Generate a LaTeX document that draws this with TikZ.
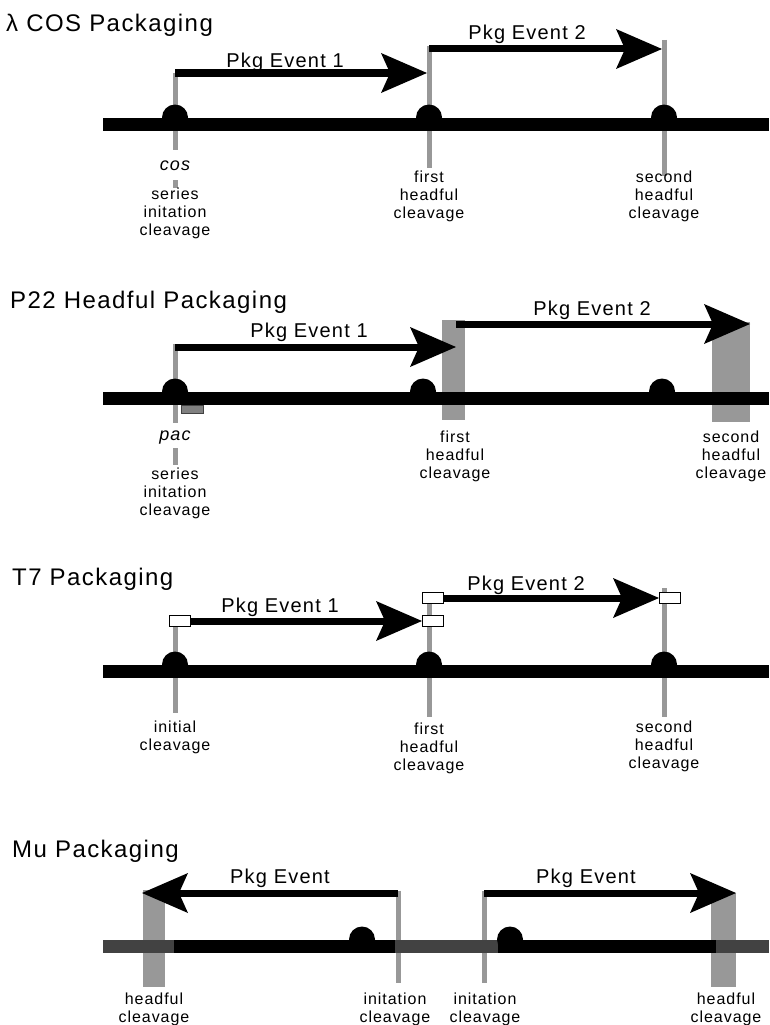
\documentclass[tikz,border=0pt]{standalone}
\usepackage{fontspec}
\setmainfont[LetterSpace=6]{Liberation Sans}
\usetikzlibrary{arrows.meta, positioning}
\definecolor{tickgray}{RGB}{152,152,152}
\definecolor{segdark}{RGB}{66,66,66}
\tikzset{
	x=1pt, y=-1pt, % one unit is one pixel of the original figure, y runs down
	spine/.style={line width=13pt}, % the thick DNA line
	tick/.style={draw=tickgray, line width=5pt}, % thin grey cleavage marks
	hbar/.style={fill=tickgray}, % wide grey headful cut zones
	event/.style={line width=7pt, -{Stealth[length=46pt, width=40pt, inset=9pt, line width=0pt]}},
	title/.style={font=\fontsize{24}{28}\selectfont, anchor=base west, inner sep=0pt},
	evlabel/.style={font=\fontsize{20}{24}\selectfont, anchor=base, inner sep=0pt},
	site/.style={font=\fontsize{16}{18}\selectfont, align=center, anchor=north, inner sep=0pt, execute at begin node=\strut},
	seq/.style={font=\fontsize{18}{20}\selectfont\itshape, anchor=base, inner sep=0pt},
	flag/.style={draw, line width=1.2pt, fill=white, minimum width=21pt, minimum height=11pt, inner sep=0pt, anchor=west},
}

\begin{document}
\begin{tikzpicture}
	\useasboundingbox (0,0) rectangle (769,1025);

	% ---- lambda cos ----
	\node[title] (t1) at (6,32) {λ COS Packaging};
	\coordinate (a1s) at (175,73);
	\coordinate (a1e) at (427,73);
	\coordinate (b1s) at (429,49);
	\coordinate (b1e) at (662,49);
	\draw[tick] (175,73) -- (175,150) (175,180) -- (175,188);
	\draw[tick] (429,46) -- (429,168);
	\draw[tick] (664,40) -- (664,176);
	\draw[spine] (103,124.5) -- (769,124.5);
	\foreach \bx in {175,429,664} \fill (\bx,117.5) circle[radius=13pt];
	\draw[event] (a1s) -- (a1e);
	\draw[event] (b1s) -- (b1e);
	\node[evlabel] (e1a) at (285,67) {Pkg Event 1};
	\node[evlabel] (e1b) at (527,40) {Pkg Event 2};
	\node[seq] (cos) at (175,170) {cos};
	\node[site] (s1a) at (175,187.4) {series\\initation\\cleavage};
	\node[site] (s1b) at (429,170.4) {first\\headful\\cleavage};
	\node[site] (s1c) at (664,170.4) {second\\headful\\cleavage};

	% ---- P22 ----
	\node[title] (t2) at (10,308) {P22 Headful Packaging};
	\fill[hbar] (442,320) rectangle (465,420);
	\fill[hbar] (712,322) rectangle (750,422);
	\coordinate (a2s) at (175,347);
	\coordinate (a2e) at (456,347);
	\coordinate (b2s) at (456,324);
	\coordinate (b2e) at (750,324);
	\draw[tick] (175,344) -- (175,423) (175,448) -- (175,465);
	\draw[spine] (103,398.5) -- (769,398.5);
	\filldraw[fill=gray, draw=segdark, line width=1pt] (181,405) rectangle (203,413);
	\foreach \bx in {175,423,662} \fill (\bx,391.5) circle[radius=13pt];
	\draw[event] (a2s) -- (a2e);
	\draw[event] (b2s) -- (b2e);
	\node[evlabel] (e2a) at (309,337) {Pkg Event 1};
	\node[evlabel] (e2b) at (592,315) {Pkg Event 2};
	\node[seq] (pac) at (175,440) {pac};
	\node[site] (s2a) at (175,467.4) {series\\initation\\cleavage};
	\node[site] (s2b) at (455,430.4) {first\\headful\\cleavage};
	\node[site] (s2c) at (731,430.4) {second\\headful\\cleavage};

	% ---- T7 ----
	\node[title] (t3) at (12,585) {T7 Packaging};
	\draw[tick] (175,621) -- (175,713);
	\draw[tick] (429,593) -- (429,717);
	\draw[tick] (664,588) -- (664,717);
	\draw[spine] (103,671.5) -- (769,671.5);
	\foreach \bx in {175,429,664} \fill (\bx,664.5) circle[radius=13pt];
	\node[flag] (f1) at (169,621) {};
	\node[flag] (f2a) at (422,598) {};
	\node[flag] (f2b) at (422,621) {};
	\node[flag] (f3) at (659,598) {};
	\draw[event] (f1) -- (f2b);
	\draw[event] (f2a) -- (f3);
	\node[evlabel] (e3a) at (280,612) {Pkg Event 1};
	\node[evlabel] (e3b) at (526,590) {Pkg Event 2};
	\node[site] (s3a) at (175,720.4) {initial\\cleavage};
	\node[site] (s3b) at (429,722.4) {first\\headful\\cleavage};
	\node[site] (s3c) at (664,720.4) {second\\headful\\cleavage};

	% ---- Mu ----
	\node[title] (t4) at (12,857) {Mu Packaging};
	\fill[hbar] (143,890) rectangle (165,987);
	\fill[hbar] (711,893) rectangle (736,987);
	\coordinate (a4s) at (398,893);
	\coordinate (a4e) at (142,893);
	\coordinate (b4s) at (484,893);
	\coordinate (b4e) at (736,893);
	\draw[tick] (398,890.5) -- (398,983);
	\draw[tick] (484,890.5) -- (484,983);
	\draw[spine, segdark] (103,946.5) -- (769,946.5);
	\draw[spine] (174,946.5) -- (395,946.5) (498,946.5) -- (716,946.5);
	\foreach \bx in {362,510} \fill (\bx,939.5) circle[radius=13pt];
	\draw[event] (a4s) -- (a4e);
	\draw[event] (b4s) -- (b4e);
	\node[evlabel] (e4a) at (280,883) {Pkg Event};
	\node[evlabel] (e4b) at (586,883) {Pkg Event};
	\node[site] (s4a) at (154,992.4) {headful\\cleavage};
	\node[site] (s4b) at (395,992.4) {initation\\cleavage};
	\node[site] (s4c) at (485,992.4) {initation\\cleavage};
	\node[site] (s4d) at (726,992.4) {headful\\cleavage};
\end{tikzpicture}
\end{document}
